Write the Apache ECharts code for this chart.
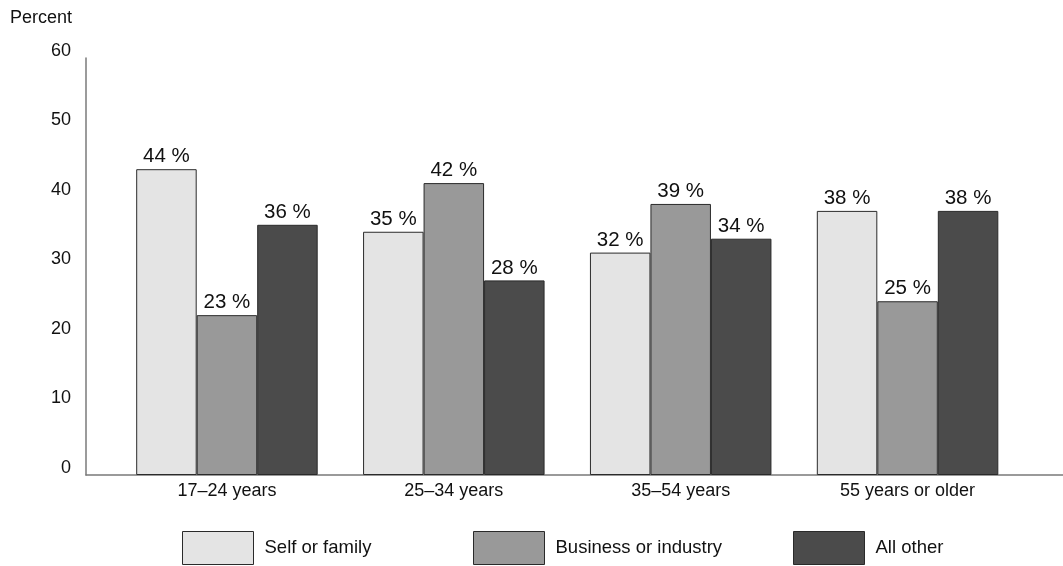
<!DOCTYPE html>
<html>
<head>
<meta charset="utf-8">
<script src="https://cdn.jsdelivr.net/npm/echarts@6/dist/echarts.min.js"></script>
<style>
  html, body { margin: 0; padding: 0; background: #fff; }
  #chart { width: 1063px; height: 566px; }
</style>
</head>
<body>
<div id="chart"></div>
<script>
// Age groups along the horizontal axis
var ageGroups = ['17\u201324 years', '25\u201334 years', '35\u201354 years', '55 years or older'];

// Share of each funding source, in percent
var seriesNames = ['Self or family', 'Business or industry', 'All other'];
var selfOrFamily = [44, 35, 32, 38];
var businessOrIndustry = [23, 42, 39, 25];
var allOther = [36, 28, 34, 38];

// Vertical scale
var yMin = 0, yMax = 60, yStep = 10;

var FONT = '"Liberation Sans", Arial, Helvetica, sans-serif';
var fills = ['#e4e4e4', '#999999', '#4b4b4b'];
var values = [selfOrFamily, businessOrIndustry, allOther];

var chart = echarts.init(document.getElementById('chart'), null, { renderer: 'canvas' });

function barSeries(i) {
  return {
    name: seriesNames[i],
    type: 'bar',
    xAxisIndex: 0,
    yAxisIndex: 0,
    data: values[i],
    barWidth: 60.5,
    barGap: '0%',
    itemStyle: { color: fills[i], borderColor: '#2a2a2a', borderWidth: 1 },
    label: {
      show: true,
      position: 'top',
      distance: 2,
      formatter: '{c} %',
      color: '#111',
      fontFamily: FONT,
      fontSize: 20.5
    },
    emphasis: { disabled: true },
    animation: false
  };
}

function legendFor(i, left) {
  return {
    data: [seriesNames[i]],
    left: left,
    top: 531,
    padding: 0,
    itemWidth: 71,
    itemHeight: 33,
    icon: 'rect',
    itemStyle: { borderColor: '#2a2a2a', borderWidth: 1 },
    textStyle: { fontFamily: FONT, fontSize: 18.5, color: '#111', padding: [0, 0, 0, 6] },
    selectedMode: false
  };
}

chart.setOption({
  backgroundColor: '#ffffff',
  animation: false,
  textStyle: { fontFamily: FONT },
  title: {
    text: 'Percent',
    left: 10,
    top: 9,
    padding: 0,
    textStyle: { fontFamily: FONT, fontSize: 18, fontWeight: 'normal', color: '#111' }
  },
  grid: [
    // bars
    { left: 113.5, right: 42, top: 58, bottom: 91 },
    // frame: left axis and full-width baseline
    { left: 86, right: 0, top: 58, bottom: 91 }
  ],
  xAxis: [
    {
      type: 'category',
      gridIndex: 0,
      data: ageGroups,
      axisLine: { show: false },
      axisTick: { show: false },
      axisLabel: { fontFamily: FONT, fontSize: 18, color: '#111', margin: 7 }
    },
    {
      type: 'value',
      gridIndex: 1,
      min: 0,
      max: 1,
      axisLine: { show: true, lineStyle: { color: '#7a7a7a', width: 1.5 } },
      axisTick: { show: false },
      axisLabel: { show: false },
      splitLine: { show: false }
    }
  ],
  yAxis: [
    {
      type: 'value',
      gridIndex: 0,
      min: yMin,
      max: yMax,
      interval: yStep,
      show: false,
      splitLine: { show: false }
    },
    {
      type: 'value',
      gridIndex: 1,
      min: yMin,
      max: yMax,
      interval: yStep,
      axisLine: { show: true, lineStyle: { color: '#7a7a7a', width: 1.5 } },
      axisTick: { show: false },
      splitLine: { show: false },
      axisLabel: {
        fontFamily: FONT,
        fontSize: 18,
        color: '#111',
        margin: 15,
        verticalAlign: 'bottom',
        lineHeight: 14
      }
    }
  ],
  legend: [legendFor(0, 182), legendFor(1, 473), legendFor(2, 793)],
  series: [barSeries(0), barSeries(1), barSeries(2)]
});
</script>
</body>
</html>
